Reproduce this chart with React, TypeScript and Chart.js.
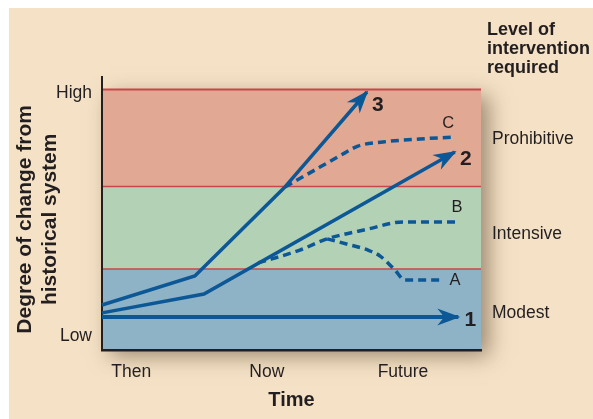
import React, { useEffect, useRef } from "react";
import { Chart, registerables } from "chart.js";

Chart.register(...registerables);

// ---- data ----
const timeTicks = [7.7, 43.5, 79.4];
const timeLabels = ["Then", "Now", "Future"];
const degreeTicks = [5, 94];
const degreeLabels = ["Low", "High"];
const bandEdges = [0, 29.7, 59.9, 95.4];
const bandNames = ["Modest", "Intensive", "Prohibitive"];
const bandLabelAt = [13.6, 42.5, 77.3];
const headerLines = ["Level of", "intervention", "required"];
const yTitleLines = ["Degree of change from", "historical system"];

const path1 = [[0, 12.1], [94.0, 12.1]];
const path2 = [[0, 13.6], [26.9, 20.5], [93.1, 72.5]];
const path3 = [[0, 16.5], [24.5, 27.1], [48.0, 59.3], [69.9, 94.5]];
const pathA = [[59.4, 40.7], [65.4, 38.5], [70.2, 36.6], [73.4, 34.4], [77.3, 29.3], [79.9, 25.6], [89.7, 25.6]];
const pathB = [[41.2, 31.9], [52.2, 36.6], [59.4, 40.7], [70.2, 44.3], [79.4, 46.9], [93.9, 46.9]];
const pathC = [[48.3, 59.7], [57.5, 67.0], [64.1, 72.2], [67.5, 74.7], [74.1, 76.2], [83.9, 77.3], [92.9, 78.0]];
const pathNames = ["1", "2", "3", "A", "B", "C"];

// ---- styles ----
const FONT = "'Liberation Sans', Arial, sans-serif";
const BG = "#F5E2C6";
const BAND_COLORS = ["#8EB3C6", "#B3D1B5", "#E1A894"];
const EDGE = "#C9474B";
const LINE = "#0C5796";
const TEXT = "#231F20";
const labelOffsets = [[12, 3], [11, 7], [11, 13], [13, 0], [-1, -15], [-6, -14]];
const arrowed = [true, true, true, false, false, false];

const toPts = (p: number[][]) => p.map(([x, y]) => ({ x, y }));

const backdrop = {
  id: "backdrop",
  beforeDraw(chart: any) {
    const { ctx, chartArea: a, scales } = chart;
    const y = scales.y;
    ctx.save();
    ctx.fillStyle = BG;
    ctx.fillRect(0, 0, chart.width, chart.height);
    const top = y.getPixelForValue(bandEdges[3]);
    ctx.save();
    ctx.shadowColor = "rgba(70,50,30,0.5)";
    ctx.shadowBlur = 20;
    ctx.shadowOffsetX = 8;
    ctx.shadowOffsetY = 6;
    ctx.fillStyle = BAND_COLORS[0];
    ctx.fillRect(a.left, top, a.right - a.left, a.bottom - top);
    ctx.restore();
    for (let i = 0; i < 3; i++) {
      const y0 = y.getPixelForValue(bandEdges[i]);
      const y1 = y.getPixelForValue(bandEdges[i + 1]);
      ctx.fillStyle = BAND_COLORS[i];
      ctx.fillRect(a.left, y1, a.right - a.left, y0 - y1);
    }
    ctx.strokeStyle = EDGE;
    for (let i = 1; i < 4; i++) {
      const yy = y.getPixelForValue(bandEdges[i]);
      ctx.lineWidth = i === 3 ? 2 : 1.5;
      ctx.beginPath();
      ctx.moveTo(a.left, yy);
      ctx.lineTo(a.right, yy);
      ctx.stroke();
    }
    ctx.restore();
  },
  afterDatasetsDraw(chart: any) {
    const { ctx } = chart;
    ctx.save();
    chart.data.datasets.forEach((ds: any, i: number) => {
      const meta = chart.getDatasetMeta(i);
      const pts = meta.data;
      const last = pts[pts.length - 1];
      const prev = pts[pts.length - 2];
      if (arrowed[i]) {
        const ang = Math.atan2(last.y - prev.y, last.x - prev.x);
        ctx.save();
        ctx.translate(last.x, last.y);
        ctx.rotate(ang);
        ctx.fillStyle = LINE;
        ctx.beginPath();
        ctx.moveTo(2, 0);
        ctx.lineTo(-21, -8.5);
        ctx.lineTo(-14, 0);
        ctx.lineTo(-21, 8.5);
        ctx.closePath();
        ctx.fill();
        ctx.restore();
      }
      const [dx, dy] = labelOffsets[i];
      ctx.fillStyle = TEXT;
      ctx.textAlign = "center";
      ctx.textBaseline = "middle";
      ctx.font = arrowed[i] ? `bold 21px ${FONT}` : `16.5px ${FONT}`;
      ctx.fillText(pathNames[i], last.x + dx, last.y + dy);
    });
    ctx.font = `bold 18px ${FONT}`;
    ctx.textAlign = "left";
    ctx.textBaseline = "middle";
    ctx.fillStyle = TEXT;
    headerLines.forEach((t, k) => ctx.fillText(t, 478, 22 + k * 19));
    ctx.restore();
  },
};

const lookup = (ticks: number[], labels: string[]) => (v: any) => {
  const i = ticks.findIndex((t) => Math.abs(t - Number(v)) < 1e-6);
  return i >= 0 ? labels[i] : "";
};

export default function App() {
  const ref = useRef<HTMLCanvasElement>(null);
  useEffect(() => {
    const paths = [path1, path2, path3, pathA, pathB, pathC];
    const chart = new Chart(ref.current as HTMLCanvasElement, {
      type: "line",
      data: {
        datasets: paths.map((p, i) => ({
          label: pathNames[i],
          data: toPts(p),
          borderColor: LINE,
          borderWidth: i === 0 ? 4 : 3.5,
          borderDash: i >= 3 ? [8, 5] : [],
          pointRadius: 0,
          fill: false,
          cubicInterpolationMode: i >= 3 ? "monotone" : "default",
          tension: 0,
          clip: false,
          xAxisID: "x",
          yAxisID: "y",
        })) as any,
      },
      options: {
        animation: false,
        responsive: true,
        maintainAspectRatio: false,
        layout: { padding: { top: 69, left: 0, right: 0, bottom: 0 } },
        plugins: { legend: { display: false }, tooltip: { enabled: false } },
        scales: {
          x: {
            type: "linear",
            position: "bottom",
            min: 0,
            max: 100,
            grid: { display: false, drawTicks: false },
            border: { display: true, color: TEXT, width: 2.5 },
            ticks: {
              autoSkip: false,
              maxRotation: 0,
              minRotation: 0,
              padding: 12,
              color: TEXT,
              font: { family: FONT, size: 17.5 },
              callback: lookup(timeTicks, timeLabels),
            },
            afterBuildTicks: (s: any) => {
              s.ticks = timeTicks.map((v) => ({ value: v }));
            },
            afterFit: (s: any) => {
              s.height = 69;
            },
            title: {
              display: true,
              text: "Time",
              color: TEXT,
              font: { family: FONT, size: 20, weight: "bold", lineHeight: 1.2 },
              padding: { top: 0, bottom: 7 },
            },
          },
          y: {
            type: "linear",
            position: "left",
            min: 0,
            max: 100,
            grid: { display: false, drawTicks: false },
            border: { display: true, color: TEXT, width: 2 },
            ticks: {
              autoSkip: false,
              padding: 10,
              color: TEXT,
              font: { family: FONT, size: 17.5 },
              callback: lookup(degreeTicks, degreeLabels),
            },
            afterBuildTicks: (s: any) => {
              s.ticks = degreeTicks.map((v) => ({ value: v }));
            },
            afterFit: (s: any) => {
              s.width = 93;
            },
            title: {
              display: true,
              // trailing spaces nudge the centred title slightly downward
              text: yTitleLines.map((t) => t + "  "),
              color: TEXT,
              font: { family: FONT, size: 21, weight: "bold", lineHeight: 1.2 },
              padding: { top: 3.5, bottom: 0 },
            },
          },
          y2: {
            type: "linear",
            position: "right",
            min: 0,
            max: 100,
            grid: { display: false, drawTicks: false },
            border: { display: false },
            ticks: {
              autoSkip: false,
              padding: 11,
              color: TEXT,
              font: { family: FONT, size: 17.5 },
              callback: lookup(bandLabelAt, bandNames),
            },
            afterBuildTicks: (s: any) => {
              s.ticks = bandLabelAt.map((v) => ({ value: v }));
            },
            afterFit: (s: any) => {
              s.width = 112;
            },
          },
        },
      } as any,
      plugins: [backdrop],
    });
    return () => chart.destroy();
  }, []);
  return (
    <div style={{ position: "fixed", left: 9, top: 8, width: 584, height: 411 }}>
      <canvas ref={ref} />
    </div>
  );
}
